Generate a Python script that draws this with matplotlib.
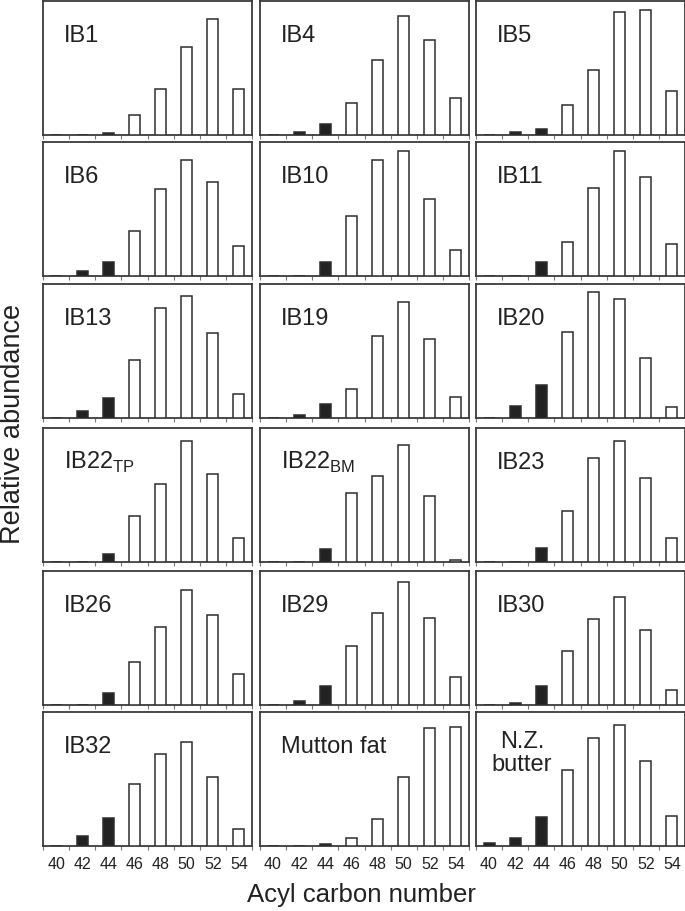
import matplotlib
matplotlib.use("Agg")
import matplotlib.pyplot as plt
import numpy as np

plt.rcParams['font.family'] = ['Liberation Sans', 'DejaVu Sans']
plt.rcParams['mathtext.fontset'] = 'custom'
plt.rcParams['mathtext.rm'] = 'Liberation Sans'

carbons = [40, 42, 44, 46, 48, 50, 52, 54]
tick_labels = ['40', '42', '44', '46', '48', '50', '52', '54']

names = ['IB1', 'IB4', 'IB5',
         'IB6', 'IB10', 'IB11',
         'IB13', 'IB19', 'IB20',
         r'IB22$_{\mathregular{TP}}$', r'IB22$_{\mathregular{BM}}$', 'IB23',
         'IB26', 'IB29', 'IB30',
         'IB32', 'Mutton fat', 'N.Z.\nbutter']

ib1 = [0, 0, 6, 60, 138, 264, 348, 138]
ib4 = [0, 8, 33, 97, 225, 358, 284, 110]
ib5 = [0, 8, 19, 91, 196, 369, 374, 133]
ib6 = [0, 15, 42, 135, 260, 347, 283, 89]
ib10 = [0, 0, 42, 179, 347, 374, 231, 79]
ib11 = [0, 0, 42, 102, 263, 375, 297, 97]
ib13 = [0, 22, 59, 173, 329, 367, 256, 72]
ib19 = [0, 8, 42, 88, 247, 348, 237, 64]
ib20 = [0, 35, 98, 258, 379, 357, 180, 34]
ib22tp = [0, 0, 24, 138, 233, 362, 265, 73]
ib22bm = [0, 0, 40, 207, 257, 352, 198, 6]
ib23 = [0, 0, 41, 154, 311, 362, 253, 72]
ib26 = [0, 0, 36, 130, 235, 344, 270, 92]
ib29 = [0, 13, 58, 177, 275, 369, 262, 84]
ib30 = [0, 6, 56, 162, 257, 324, 226, 46]
ib32 = [0, 29, 83, 186, 276, 312, 208, 51]
mutton = [0, 0, 6, 24, 80, 208, 354, 358]
nzbutter = [10, 23, 88, 229, 324, 362, 255, 91]

series = [ib1, ib4, ib5, ib6, ib10, ib11, ib13, ib19, ib20,
          ib22tp, ib22bm, ib23, ib26, ib29, ib30, ib32, mutton, nzbutter]

W, H = 685, 911
fig = plt.figure(figsize=(W / 100, H / 100), dpi=100)

col_left = [43, 260, 476]
col_w = 209
row_top = [1, 142, 284, 428, 571, 712]
row_h = 134

dark = '#222222'
edge = '#2e2e2e'

for i, (name, vals) in enumerate(zip(names, series)):
    r, c = divmod(i, 3)
    ax = fig.add_axes([col_left[c] / W, (H - row_top[r] - row_h) / H,
                       col_w / W, row_h / H])
    colors = [dark if x <= 44 else 'white' for x in carbons]
    ax.bar(carbons, vals, width=0.85, color=colors, edgecolor=edge,
           linewidth=1.1, zorder=3)
    ax.set_xlim(39, 55)
    ax.set_ylim(0, 402)
    ax.set_yticks([])
    ax.set_xticks(np.arange(39, 56, 2))
    ax.tick_params(axis='x', which='major', direction='out', length=3,
                   width=0.8, color='#777777', labelbottom=False)
    ax.set_xticks(carbons, minor=True)
    ax.tick_params(axis='x', which='minor', length=0, pad=8,
                   labelsize=11.5, labelcolor='#222222')
    if r == 5:
        ax.set_xticklabels(tick_labels, minor=True)
    else:
        ax.set_xticklabels([], minor=True)
    for s in ax.spines.values():
        s.set_color('#3a3a3a')
        s.set_linewidth(1.3)
    if name.startswith('N.Z.'):
        ax.text(0.22, 0.69, name, transform=ax.transAxes, fontsize=17,
                ha='center', va='center', color='#222222', linespacing=1.05)
    else:
        ax.text(0.10, 0.74, name, transform=ax.transAxes, fontsize=17,
                ha='left', va='center', color='#222222')

fig.text(361 / W, 1 - 895 / H, 'Acyl carbon number', ha='center',
         va='center', fontsize=18.5, color='#222222')
fig.text(13 / W, 1 - 424 / H, 'Relative abundance', ha='center',
         va='center', rotation=90, fontsize=19.5, color='#222222')

fig.savefig('out.png', dpi=100)
